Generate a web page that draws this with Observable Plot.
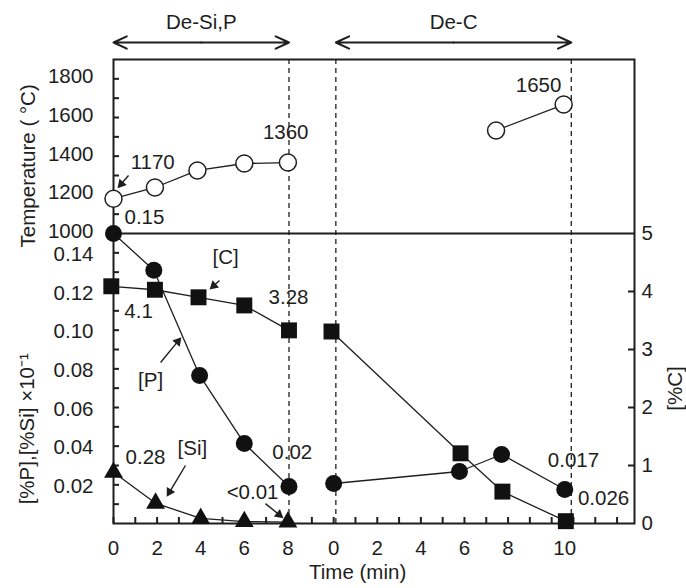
<!DOCTYPE html>
<html><head><meta charset="utf-8">
<script src="https://cdn.jsdelivr.net/npm/d3@7"></script>
<script src="https://cdn.jsdelivr.net/npm/@observablehq/plot@0.6"></script>
<style>html,body{margin:0;padding:0;background:#fff;}</style>
</head><body><div id="chart"></div>
<script>
// ---------- data ----------
// Stage A = De-Si,P (0–8 min), stage B = De-C (0–10 min)
const tempTimeA = [0, 1.9, 3.85, 6, 8];
const tempValA  = [1180, 1238, 1326, 1362, 1367];
const tempTimeB = [7.45, 10.55];
const tempValB  = [1533, 1667];

const pTimeA = [0, 1.85, 3.95, 6, 8.05];
const pValA  = [0.150, 0.131, 0.0766, 0.0414, 0.0191];
const pTimeB = [0, 5.77, 7.7, 10.6];
const pValB  = [0.0207, 0.0269, 0.0357, 0.0176];

const cTimeA = [-0.1, 1.9, 3.9, 6, 8.05];
const cValA  = [4.09, 4.03, 3.90, 3.76, 3.33];
const cTimeB = [-0.1, 5.82, 7.74, 10.65];
const cValB  = [3.31, 1.21, 0.55, 0.04];

const siTimeA = [0, 1.93, 4.0, 6, 8];
const siValA  = [0.0265, 0.0105, 0.0026, 0.001, 0.0007];

const phaseNames = ["De-Si,P", "De-C"];
const phaseStart = [0, 0.1];     // minutes within each stage
const phaseEnd   = [8.05, 10.9];

const tempTicks = [1000, 1200, 1400, 1600, 1800];
const pTicks    = [0.02, 0.04, 0.06, 0.08, 0.10, 0.12, 0.14];
const cTicks    = [0, 1, 2, 3, 4, 5];
const timeTicksA = [0, 2, 4, 6, 8];
const timeTicksB = [0, 2, 4, 6, 8, 10];

// annotations: [text, stage, time, panel ("T" temperature / "P" composition), value]
const notes = [
  ["1170", 0, 1.8, "T", 1367],
  ["1360", 0, 7.9, "T", 1522],
  ["1650", 1, 9.4, "T", 1766],
  ["0.15", 0, 1.42, "P", 0.1583],
  ["[C]", 0, 5.14, "P", 0.1376],
  ["4.1", 0, 1.15, "P", 0.1097],
  ["3.28", 0, 8.03, "P", 0.1169],
  ["[P]", 0, 1.7, "P", 0.074],
  ["0.28", 0, 1.47, "P", 0.0341],
  ["[Si]", 0, 3.62, "P", 0.0388],
  ["0.02", 0, 8.2, "P", 0.0367],
  ["<0.01", 0, 6.38, "P", 0.016],
  ["0.017", 1, 11.0, "P", 0.0326],
  ["0.026", 1, 12.38, "P", 0.0129]
];
// pointer arrows: [stage, t1, panel, v1, t2, v2]
const pointers = [
  [0, 0.69, "T", 1300, 0.2, 1236],
  [0, 4.86, "P", 0.1257, 4.42, 0.1212],
  [0, 2.16, "P", 0.0833, 3.1, 0.0962],
  [0, 3.3, "P", 0.030, 2.45, 0.014],
  [0, 6.97, "P", 0.0103, 7.78, 0.0029]
];

// ---------- mapping helpers ----------
const SEG_B = 10.1;                 // where stage B starts on the shared time axis
const U = (stage, t) => stage === 0 ? t : SEG_B + t;
const vT = T => 0.15 + (T - 1000) / 10000;   // temperature panel sits above 0.15
const vC = c => c * 0.03;                    // %C right axis (5 -> 0.15)
const V = (panel, val) => panel === "T" ? vT(val) : val;
const XMAX = 23.9, YMAX = 0.24;
const pxX = XMAX / (634 - 113), pxY = YMAX / (523 - 59);

const rows = (times, vals, stage, f, series) => times.map((t, i) => ({u: U(stage, t), v: f(vals[i]), s: series}));
const temp = [...rows(tempTimeA, tempValA, 0, vT, "A"), ...rows(tempTimeB, tempValB, 1, vT, "B")];
const pRows = [...rows(pTimeA, pValA, 0, d => d, "A"), ...rows(pTimeB, pValB, 1, d => d, "B")];
const cRows = [...rows(cTimeA, cValA, 0, vC, "A"), ...rows(cTimeB, cValB, 1, vC, "B")];
const siRows = rows(siTimeA, siValA, 0, d => d, "A");

const lastB = pTimeB[pTimeB.length - 1];
const xTicks = [
  ...timeTicksA.map(t => ({u: U(0, t), label: String(t)})),
  ...timeTicksB.map(t => ({u: U(1, t === 10 ? lastB : t), label: String(t)}))
];
const minorX = [...d3.range(0, 9).map(t => U(0, t)), ...d3.range(-1, 14).map(t => U(1, t))];
const minorT = d3.range(1100, 1900, 100).map(vT);
const minorP = d3.range(1, 15).map(k => k / 100);
const minorC = [1, 2, 3, 4].map(vC);

const phases = phaseNames.map((n, i) => ({
  name: n, u1: U(i, phaseStart[i]), u2: U(i, phaseEnd[i])
}));
const arrowY = (523 - 42) * pxY, titleY = (523 - 22) * pxY;

// pointer shafts + filled heads
const ptr = pointers.map(([st, t1, panel, a, t2, b]) => {
  const x1 = U(st, t1), y1 = V(panel, a), x2 = U(st, t2), y2 = V(panel, b);
  const dxs = (x2 - x1) / pxX, dys = -(y2 - y1) / pxY;
  const len = Math.hypot(dxs, dys), ux = dxs / len, uy = dys / len;
  return {
    x1, y1,
    sx: x2 - ux * 6 * pxX, sy: y2 + uy * 6 * pxY,
    cx: x2 - ux * 5.2 * pxX, cy: y2 + uy * 5.2 * pxY,
    rot: Math.atan2(ux, -uy) * 180 / Math.PI
  };
});

const ink = "#1e1e1e";
const fontFamily = "'Liberation Sans', Arial, Helvetica, sans-serif";
const fs = 20.5;

const chart = Plot.plot({
  width: 686, height: 588,
  marginLeft: 113, marginRight: 52, marginTop: 59, marginBottom: 65,
  style: {fontFamily, fontSize: fs + "px", color: ink, background: "#fff"},
  x: {domain: [0, XMAX]},
  y: {domain: [0, YMAX]},
  marks: [
    // phase boundaries
    Plot.ruleX(phases.flatMap(p => [p.u1, p.u2]).slice(1), {x: d => d, y1: 0, y2: YMAX, stroke: ink, strokeWidth: 1.3, strokeDasharray: "5,4"}),
    Plot.ruleY([0.15], {stroke: ink, strokeWidth: 2}),
    Plot.frame({stroke: ink, strokeWidth: 2}),
    // inward ticks
    Plot.ruleY([...minorT, ...minorP], {y: d => d, x1: 0, x2: 6 * pxX, stroke: ink, strokeWidth: 2}),
    Plot.ruleY(minorC, {y: d => d, x1: XMAX - 6 * pxX, x2: XMAX, stroke: ink, strokeWidth: 2}),
    Plot.ruleX(minorX, {x: d => d, y1: 0, y2: 6 * pxY, stroke: ink, strokeWidth: 2}),
    // series lines
    Plot.line(temp, {x: "u", y: "v", z: "s", stroke: ink, strokeWidth: 1.3}),
    Plot.line(pRows, {x: "u", y: "v", z: "s", stroke: ink, strokeWidth: 1.3}),
    Plot.line(cRows, {x: "u", y: "v", z: "s", stroke: ink, strokeWidth: 1.3}),
    Plot.line(siRows, {x: "u", y: "v", stroke: ink, strokeWidth: 1.3}),
    // markers
    Plot.dot(temp, {x: "u", y: "v", r: 8.5, fill: "#fff", stroke: ink, strokeWidth: 1.5}),
    Plot.dot(pRows, {x: "u", y: "v", r: 8.5, fill: "#111", stroke: "none"}),
    Plot.dot(cRows, {x: "u", y: "v", r: 9, symbol: "square", fill: "#111", stroke: "none"}),
    Plot.dot(siRows, {x: "u", y: "v", r: 7, symbol: "triangle", fill: "#111", stroke: "none"}),
    // axes
    Plot.axisY(tempTicks.map(vT), {anchor: "left", label: null, tickSize: 0, tickPadding: 20, dy: -2, tickFormat: v => String(Math.round((v - 0.15) * 10000 + 1000)), fontSize: fs, fill: ink}),
    Plot.axisY(pTicks, {anchor: "left", label: null, tickSize: 0, tickPadding: 20, dy: 1.5, tickFormat: d3.format(".2f"), fontSize: fs, fill: ink}),
    Plot.axisY(cTicks.map(vC), {anchor: "right", label: null, tickSize: 0, tickPadding: 7, tickFormat: v => String(Math.round(v / 0.03)), fontSize: fs, fill: ink}),
    Plot.axisX(xTicks.map(d => d.u), {anchor: "bottom", label: null, tickSize: 0, tickPadding: 17, tickFormat: (u) => xTicks.find(d => d.u === u).label, fontSize: fs, fill: ink}),
    // axis titles
    Plot.text(["Temperature ( °C)"], {frameAnchor: "left", textAnchor: "middle", dx: -85, y: [vT(1350)], rotate: -90, fontSize: fs, fill: ink}),
    Plot.text(["[%P],[%Si] ×10⁻¹"], {frameAnchor: "left", textAnchor: "middle", dx: -86, y: [0.049], rotate: -90, fontSize: fs, fill: ink}),
    Plot.text(["[%C]"], {frameAnchor: "right", textAnchor: "middle", dx: 41, y: [0.0698], rotate: -90, fontSize: fs, fill: ink}),
    Plot.text(["Time (min)"], {frameAnchor: "bottom", textAnchor: "middle", x: [11.2], dy: 55, fontSize: fs, fill: ink}),
    // stage headers
    Plot.arrow(phases, {x1: d => (d.u1 + d.u2) / 2, x2: "u1", y1: arrowY, y2: arrowY, stroke: ink, strokeWidth: 2, headLength: 11, headAngle: 50}),
    Plot.arrow(phases, {x1: d => (d.u1 + d.u2) / 2, x2: "u2", y1: arrowY, y2: arrowY, stroke: ink, strokeWidth: 2, headLength: 11, headAngle: 50}),
    Plot.text(phases, {x: d => (d.u1 + d.u2) / 2, y: titleY, text: "name", fontSize: fs, fill: ink}),
    // annotations
    Plot.text(notes, {x: d => U(d[1], d[2]), y: d => V(d[3], d[4]), text: d => d[0], fontSize: fs, fill: ink}),
    Plot.link(ptr, {x1: "x1", y1: "y1", x2: "sx", y2: "sy", stroke: ink, strokeWidth: 1.4}),
    Plot.dot(ptr, {x: "cx", y: "cy", rotate: "rot", symbol: "triangle", r: 3.6, fill: ink, stroke: "none"})
  ]
});
document.getElementById("chart").appendChild(chart);
</script>
</body></html>
